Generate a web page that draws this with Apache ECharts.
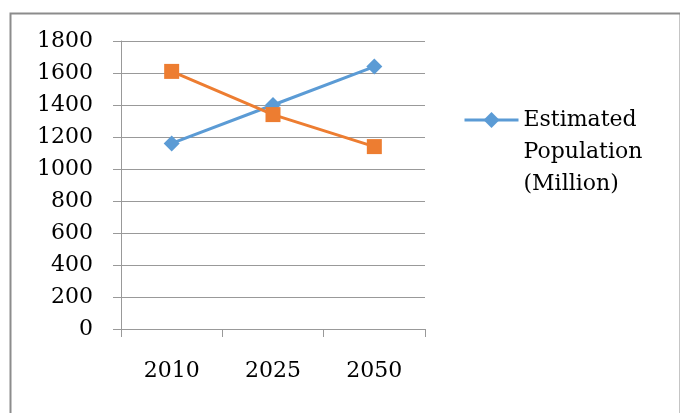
<!DOCTYPE html>
<html><head><meta charset="utf-8">
<style>html,body{margin:0;padding:0;background:#fff}#c{width:680px;height:413px}</style>
<script src="https://cdn.jsdelivr.net/npm/echarts@6/dist/echarts.min.js"></script>
</head><body><div id="c"></div>
<script>
var categories = ['2010', '2025', '2050'];
var blueName = 'Estimated Population (Million)';
var blueValues = [1160, 1400, 1640];
var orangeName = 'Series 2';
var orangeValues = [1610, 1340, 1140];
var yTicks = {min: 0, max: 1800, interval: 200};

var FONT = 'DejaVu Serif';
var chart = echarts.init(document.getElementById('c'), null, {renderer: 'canvas'});
chart.setOption({
  animation: false,
  backgroundColor: '#fff',
  graphic: [{
    type: 'rect', left: 8, top: 11,
    shape: {width: 670, height: 430},
    style: {fill: 'none', stroke: '#8c8c8c', lineWidth: 2}
  }],
  grid: {left: 121, right: 255, top: 41, bottom: 84},
  legend: {
    data: [{name: blueName}],
    left: 458, top: 35,
    orient: 'vertical',
    itemWidth: 54, itemHeight: 20,
    lineStyle: {width: 3},
    textStyle: {fontFamily: FONT, fontSize: 22, color: '#000', lineHeight: 32},
    formatter: function () { return '{e| }\n{e| }\n{t|Estimated}\n{t|Population}\n{t|(Million)}'; }
  },
  xAxis: {
    type: 'category', data: categories, boundaryGap: true,
    axisLine: {lineStyle: {color: '#999', width: 1}},
    axisTick: {show: true, length: 8, lineStyle: {color: '#999'}},
    axisLabel: {fontFamily: FONT, fontSize: 22, color: '#000', margin: 31}
  },
  yAxis: {
    type: 'value', min: yTicks.min, max: yTicks.max, interval: yTicks.interval,
    axisLine: {show: true, lineStyle: {color: '#999', width: 1}},
    axisTick: {show: true, length: 8, lineStyle: {color: '#999'}},
    splitLine: {lineStyle: {color: '#999', width: 1}},
    axisLabel: {fontFamily: FONT, fontSize: 22, color: '#000', margin: 28, formatter: function (v) { return String(v); }}
  },
  series: [{
    name: blueName, type: 'line', data: blueValues,
    symbol: 'diamond', symbolSize: 16,
    itemStyle: {color: '#5b9bd5'},
    lineStyle: {color: '#5b9bd5', width: 3}
  }, {
    name: orangeName, type: 'line', data: orangeValues,
    symbol: 'rect', symbolSize: 15,
    itemStyle: {color: '#ed7d31'},
    lineStyle: {color: '#ed7d31', width: 3}
  }]
});
chart.setOption({legend: {textStyle: {rich: {
  e: {fontFamily: FONT, fontSize: 22, lineHeight: 32},
  t: {fontFamily: FONT, fontSize: 22, lineHeight: 32, color: '#000'}
}}}});
</script></body></html>
